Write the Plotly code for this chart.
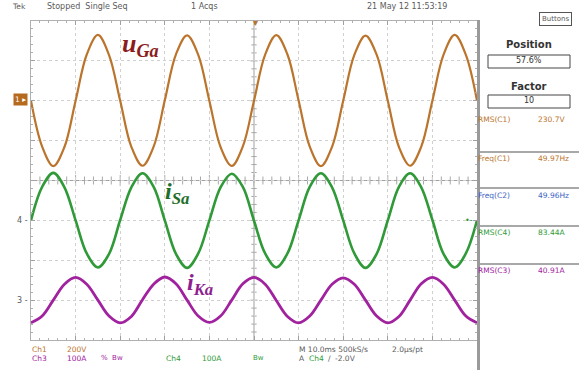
import plotly.graph_objects as go

# ---------------- data ----------------
# time samples in ms (10 ms/div, 10 divisions)
t_ms = [0, 2.5, 5, 7.5, 10, 12.5, 15, 17.5, 20, 22.5, 25, 27.5, 30, 32.5, 35, 37.5,
        40, 42.5, 45, 47.5, 50, 52.5, 55, 57.5, 60, 62.5, 65, 67.5, 70, 72.5, 75, 77.5,
        80, 82.5, 85, 87.5, 90, 92.5, 95, 97.5, 100]
# Ch1 grid voltage u_Ga (V), 200 V/div
u_Ga = [0, -230, -328, -232, 0, 232, 330, 229, 0, -231, -326, -230, 2, 233, 328, 230,
        -1, -232, -327, -229, 0, 231, 329, 232, 1, -230, -328, -231, 0, 230, 327, 231,
        0, -232, -326, -230, 0, 231, 330, 230, 0]
# Ch4 source current i_Sa (A), 100 A/div
i_Sa = [0, 84, 119, 83, 0, -83, -118, -84, 1, 83, 118, 84, 0, -84, -119, -83,
        0, 83, 117, 84, -1, -83, -118, -83, 0, 84, 118, 83, 0, -83, -119, -84,
        0, 84, 118, 83, 1, -84, -118, -83, 0]
# Ch3 compensating current i_Ka (A), 100 A/div
i_Ka = [-57, -40, 0, 40, 57, 40, 0, -40, -57, -41, 1, 40, 58, 41, 0, -40,
        -56, -40, 0, 41, 57, 40, -1, -41, -57, -40, 0, 40, 56, 40, 0, -40,
        -57, -41, 0, 41, 57, 40, 0, -40, -57]

header_texts = ["Tek", "Stopped  Single Seq", "1 Acqs", "21 May 12 11:53:19"]
meas_names = ["RMS(C1)", "Freq(C1)", "Freq(C2)", "RMS(C4)", "RMS(C3)"]
meas_values = ["230.7V", "49.97Hz", "49.96Hz", "83.44A", "40.91A"]
position_value = "57.6%"
factor_value = "10"

# ---------------- layout helpers ----------------
W, H = 579, 370
L, R, T, B = 31, 477, 21, 340   # plot area in pixels


def px(x):
    return (x - L) / (R - L)


def py(y):
    return (B - y) / (B - T)


ORANGE = "#bb742c"
GREEN = "#2f9a37"
PURPLE = "#a1229e"
BLUE = "#3b63c4"
GRAY = "#5a5a5a"
FONT = "DejaVu Sans, Liberation Sans, Arial, sans-serif"

fig = go.Figure()

fig.add_trace(go.Scatter(x=t_ms, y=u_Ga, mode="lines", yaxis="y2",
                         line=dict(color=ORANGE, width=2.2, shape="spline", smoothing=1.0),
                         showlegend=False, hoverinfo="skip"))
fig.add_trace(go.Scatter(x=t_ms, y=i_Sa, mode="lines", yaxis="y3",
                         line=dict(color=GREEN, width=2.6, shape="spline", smoothing=1.0),
                         showlegend=False, hoverinfo="skip"))
fig.add_trace(go.Scatter(x=t_ms, y=i_Ka, mode="lines", yaxis="y4",
                         line=dict(color=PURPLE, width=2.8, shape="spline", smoothing=1.0),
                         showlegend=False, hoverinfo="skip"))

frame_common = dict(showticklabels=False, zeroline=False, showline=True,
                    linecolor="#b0b0b0", linewidth=1, mirror="ticks",
                    ticks="inside", ticklen=4, tickcolor="#a0a0a0",
                    showgrid=True, gridcolor="#d0d0d0", griddash="dot", gridwidth=1)

fig.update_layout(
    width=W, height=H,
    margin=dict(l=L, r=W - R, t=T, b=H - B),
    paper_bgcolor="white", plot_bgcolor="white",
    xaxis=dict(range=[0, 100], dtick=10, tick0=0,
               minor=dict(dtick=2, ticks="inside", ticklen=2, tickcolor="#b0b0b0", showgrid=False),
               **frame_common),
    yaxis=dict(range=[-4, 4], dtick=1, tick0=0,
               minor=dict(dtick=0.2, ticks="inside", ticklen=2, tickcolor="#b0b0b0", showgrid=False),
               **frame_common),
    # channel axes: volts/div and position
    yaxis2=dict(overlaying="y", range=[-1200, 400], visible=False),   # Ch1 200 V/div, +2 div
    yaxis3=dict(overlaying="y", range=[-300, 500], visible=False),    # Ch4 100 A/div, -1 div
    yaxis4=dict(overlaying="y", range=[-100, 700], visible=False),    # Ch3 100 A/div, -3 div
)

ann = []


def text(x, y, s, color=GRAY, size=8, xanchor="left", bold=False, family=FONT, **kw):
    if bold:
        s = "<b>" + s + "</b>"
    ann.append(dict(x=px(x), y=py(y), xref="paper", yref="paper", text=s, showarrow=False,
                    xanchor=xanchor, yanchor="middle", font=dict(family=family, size=size, color=color),
                    **kw))


# header
text(10, 6, header_texts[0], size=7.5)
text(45, 6, header_texts[1], size=8)
text(189, 6, header_texts[2], size=8)
text(365, 6, header_texts[3], size=8)
text(555, 19, "Buttons", size=7, xanchor="center", bordercolor="#555", borderwidth=1,
     borderpad=2)

# right panel
text(529, 45, "Position", size=10, xanchor="center", bold=True, color="#333")
text(529, 61, position_value, size=8, xanchor="center", color="#333")
text(529, 87, "Factor", size=10, xanchor="center", bold=True, color="#333")
text(529, 101, factor_value, size=8, xanchor="center", color="#333")
meas_y = [120, 158, 195, 232, 270]
meas_col = [ORANGE, ORANGE, BLUE, GREEN, PURPLE]
for nm, val, yy, cc in zip(meas_names, meas_values, meas_y, meas_col):
    text(476, yy, nm, color=cc, size=7.5)
    text(536, yy, val, color=cc, size=7.5)

# bottom status
text(30, 349, "Ch1", color=ORANGE, size=7.5)
text(65, 349, "200V", color=ORANGE, size=7.5)
text(30, 358, "Ch3", color=PURPLE, size=7.5)
text(65, 358, "100A", color=PURPLE, size=7.5)
text(99, 358, "%  Bw", color=PURPLE, size=7)
text(164, 358, "Ch4", color=GREEN, size=7.5)
text(200, 358, "100A", color=GREEN, size=7.5)
text(251, 358, "Bw", color=GREEN, size=7)
text(297, 349, "M 10.0ms 500kS/s", size=7.5)
text(390, 349, "2.0μs/pt", size=7.5)
text(297, 358, "A", size=7.5)
text(307, 358, "Ch4", color=GREEN, size=7.5)
text(326, 358, "∕", size=7.5)
text(333, 358, "-2.0V", size=7.5)

# channel markers
text(20, 100, "1 ▸", color="white", size=7.5, xanchor="center", bgcolor="#b56a1e", borderpad=1)
text(15, 220, "4 -", size=8)
text(15, 300, "3 -", size=8)
text(469, 220, "•-", color=GREEN, size=8, xanchor="center")
text(255, 22, "▾", color=ORANGE, size=10, xanchor="center")

# waveform labels
SERIF = "Liberation Serif, Times New Roman, serif"
text(140, 45, "<b><i>u</i></b><sub><b><i>Ga</i></b></sub>", color="#8b1c1c", size=26,
     xanchor="center", family=SERIF)
text(177, 193, "<b><i>i</i></b><sub><b><i>Sa</i></b></sub>", color="#1e6e2a", size=24,
     xanchor="center", family=SERIF)
text(200, 284, "<b><i>i</i></b><sub><b><i>Ka</i></b></sub>", color="#8e1f8e", size=24,
     xanchor="center", family=SERIF)

fig.update_layout(annotations=ann)

shapes = []
# centre graticule lines (x = 50 ms, y = 0 div) with small division ticks
shapes.append(dict(type="line", xref="x", yref="y", x0=50, x1=50, y0=-4, y1=4,
                   line=dict(color="#a0a0a0", width=1), layer="below"))
shapes.append(dict(type="line", xref="x", yref="y", x0=0, x1=100, y0=0, y1=0,
                   line=dict(color="#a0a0a0", width=1), layer="below"))
for k in range(1, 50):
    xv = k * 2
    ln = 0.1 if k % 5 else 0.14
    shapes.append(dict(type="line", xref="x", yref="y", x0=xv, x1=xv, y0=-ln, y1=ln,
                       line=dict(color="#a8a8a8", width=1), layer="below"))
for k in range(-19, 20):
    yv = k * 0.2
    ln = 1.2 if k % 5 else 1.6
    shapes.append(dict(type="line", xref="x", yref="y", x0=50 - ln / 2, x1=50 + ln / 2, y0=yv, y1=yv,
                       line=dict(color="#a8a8a8", width=1), layer="below"))
# right panel frame bar
shapes.append(dict(type="line", xref="paper", yref="paper", x0=px(478.5), x1=px(478.5),
                   y0=py(20), y1=py(370), line=dict(color="#9a9a9a", width=3)))
# boxes
for y0, y1 in [(55, 68), (95, 108)]:
    shapes.append(dict(type="rect", xref="paper", yref="paper", x0=px(488), x1=px(570),
                       y0=py(y0), y1=py(y1), line=dict(color="#444", width=1)))
# separators
for yy in [152, 188, 226, 264]:
    shapes.append(dict(type="line", xref="paper", yref="paper", x0=px(480), x1=px(579),
                       y0=py(yy), y1=py(yy), line=dict(color="#a8a8a8", width=2)))
fig.update_layout(shapes=shapes)

fig.write_html("out.html", config={"displayModeBar": False},
               post_script="document.body.style.margin='0';")
